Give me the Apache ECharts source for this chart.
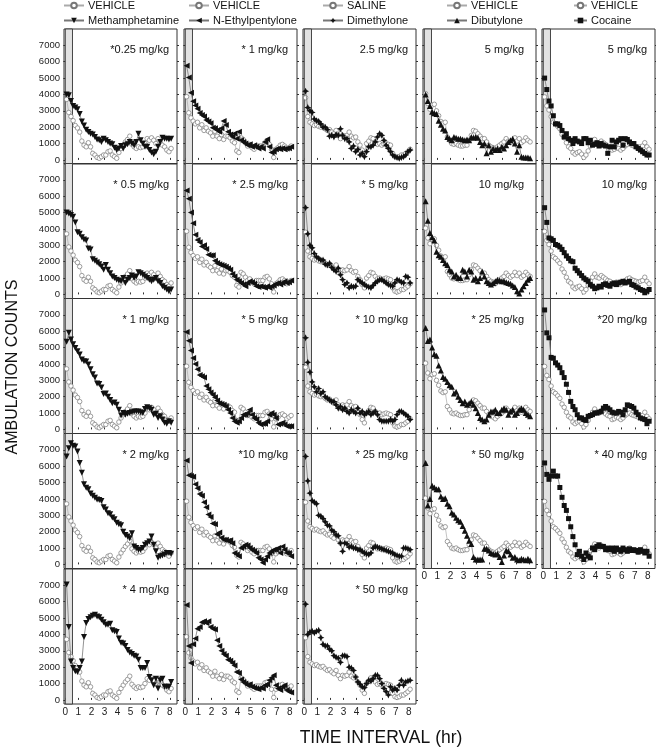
<!DOCTYPE html>
<html><head><meta charset="utf-8">
<script src="https://cdn.jsdelivr.net/npm/echarts@6/dist/echarts.min.js"></script>
<style>html,body{margin:0;padding:0;background:#fff}#c{width:656px;height:750px}</style>
</head><body><div id="c"></div>
<script>
// ---- data (10-min bins, ambulation counts) ----
const hourTicks = [0,1,2,3,4,5,6,7,8];
const countTicks = [0,1000,2000,3000,4000,5000,6000,7000];

const vehMeth = [3700,2900,2650,2400,2100,1950,1700,1150,900,800,1050,800,400,300,150,100,200,300,300,500,550,300,200,100,450,700,900,1100,1250,1450,950,800,700,800,750,800,1000,1300,1200,1350,1200,1000,1300,1100,900,800,600,500,700];
const vehNEP = [3860,2880,2570,2370,2200,2300,1960,2150,1800,1960,1750,1650,1450,1750,1450,1300,1550,1250,1450,1450,1350,1150,1050,550,450,1350,1250,1050,850,950,750,650,850,850,850,850,1050,1100,950,650,150,650,750,900,950,850,650,750,850];
const vehSaline = [3800,2650,2300,2200,2100,2150,2050,2000,2050,1900,1800,1850,1700,1600,1800,1500,1300,1500,1450,1500,1700,1450,1350,1400,1100,900,600,400,1000,1150,1350,1300,1100,950,1000,900,950,1000,950,900,400,200,150,200,300,300,400,500,650];
const vehDib = [4050,3450,3100,3350,3400,3000,2700,2350,2250,2300,1400,1200,1000,950,1000,900,850,850,900,900,1200,1500,1800,1750,1600,1450,1300,1300,1100,900,800,750,650,800,900,1000,1100,1300,1150,1050,1150,1350,1150,1300,1050,1150,1350,1200,1100];
const vehCoc = [3850,3300,3050,2650,2300,2200,2050,1900,1550,1350,1050,800,700,450,350,450,500,350,150,300,550,850,1050,1250,1050,1000,1150,1050,950,850,800,600,650,750,700,600,700,850,950,1000,900,850,800,750,800,850,1050,800,650];

const meth025 = [4000,3950,3600,3300,3200,3100,2800,2350,2100,1850,1700,1600,1550,1400,1250,1200,1100,1300,1200,1100,1000,950,750,600,700,850,700,900,950,1100,1000,900,1100,1600,1200,1000,800,800,600,450,350,500,800,1100,1350,1300,1300,1250,1300];
const meth05 = [5000,4950,4850,4750,4400,3800,3700,3500,3350,3300,2800,2750,2150,2050,1950,1850,1700,1500,1800,1500,1300,1100,1000,900,850,800,1000,700,900,1000,1150,1000,1100,1350,1300,1200,1100,1000,900,800,900,1000,800,700,500,400,300,200,300];
const meth1 = [5350,5900,5500,5200,4980,4780,4580,4270,4170,4150,3970,3670,3370,3170,2800,2780,2560,2160,2200,2000,1800,1600,1650,1500,1200,850,1000,900,950,1000,1050,1100,1100,1100,1050,1000,1250,1350,1300,1200,900,950,700,800,600,400,350,500,400];
const meth2 = [6600,7100,7400,7250,7200,6900,6200,5600,4900,4680,4600,4330,4200,4070,3970,3930,3870,3500,3360,3120,3060,2860,2760,2550,2450,2400,2000,1800,1700,1600,1900,1100,1000,900,900,1000,1200,1300,1400,1700,1200,800,400,500,550,600,700,700,650];
const meth4 = [7050,4450,2350,1950,1750,1700,1950,2350,3850,4700,4950,5050,5150,5200,5100,5050,4900,4750,4600,4600,4650,4250,4200,4150,3750,3500,3450,3300,3050,2900,2800,2700,2650,2450,1950,1950,1950,2250,1400,1200,900,1300,700,1200,1300,800,800,800,1100];

const nep1 = [5750,5030,4100,3580,3330,3130,2860,2750,2650,2440,2340,2240,1970,1930,1820,1720,1930,2380,2130,1720,1550,1410,1620,1300,1720,1200,1100,1000,900,950,800,900,800,700,800,700,1100,1260,800,450,500,650,700,650,720,650,700,720,800];
const nep25 = [6350,5850,5000,4350,3640,3330,3180,2930,3000,2780,2420,2380,2400,2050,1920,1850,1800,1750,1690,1600,1500,1250,1100,900,800,700,600,500,700,800,750,650,500,450,500,450,400,500,400,500,550,650,700,600,700,800,700,750,850];
const nep5 = [5950,5420,4820,4370,4000,3670,3330,3250,3170,2660,2460,2260,2120,1960,1760,1600,1550,1500,1400,1200,1000,700,500,400,500,700,900,900,1000,1200,900,700,600,400,300,350,350,500,900,1000,900,700,300,350,400,300,200,200,200];
const nep10 = [6350,5450,5400,5350,4900,4650,4300,4200,3800,3500,3050,2900,2500,2450,1850,1950,1630,1500,1500,1430,1480,1300,700,600,500,1000,1100,1200,1150,1000,900,800,700,400,300,100,300,500,700,800,900,900,1000,700,1100,900,700,700,500];
const nep25b = [5800,3300,2250,3400,3750,4350,4450,4750,4800,4700,4800,4450,4350,4300,3650,3300,3000,2800,2700,2450,2400,2250,2100,1700,1650,1250,1100,1000,900,950,800,750,700,650,750,700,900,950,1200,1350,1500,900,700,600,800,900,600,500,450];

const dim25 = [4200,3200,3000,2900,2500,2400,2350,2200,2000,2000,1850,1450,1500,1400,1550,1500,1900,1500,1300,1300,1100,700,850,500,650,300,400,200,500,800,800,900,1100,1400,1600,1500,1200,900,700,500,300,200,150,100,150,200,300,500,600];
const dim5 = [5300,3700,3000,2850,2500,2300,2200,2100,2100,1850,1800,1900,1650,1500,1400,1600,1200,900,600,700,400,500,450,500,900,800,700,600,500,450,400,550,700,800,900,900,800,700,600,550,500,700,900,850,750,700,1100,1050,700];
const dim10 = [5600,4100,3500,2900,2600,2300,2500,2200,2300,2000,1900,1800,1700,1700,1500,1300,1400,1200,1300,1100,1000,1200,1100,1000,1300,1000,1100,900,1000,1100,900,1000,1100,900,600,500,500,500,500,600,500,600,900,1100,1100,1000,900,800,600];
const dim25b = [6600,5100,4350,3900,3800,3700,3000,2950,2800,2600,2400,2350,2100,2000,1800,1750,1300,800,1300,1250,1050,1100,1000,1000,900,900,800,700,650,600,700,1000,1100,1050,1000,950,900,850,800,750,700,600,550,500,500,1000,1000,950,900];
const dim50 = [5850,4000,4150,4200,4100,4200,4250,3800,3400,3300,3300,3100,3000,2700,2600,2550,2300,2700,2700,2650,2000,1950,1800,1400,1100,950,800,750,1000,1200,1150,1300,1500,1500,1300,1000,700,500,300,800,600,700,600,900,1200,900,1100,1150,1200];

const dib5 = [4000,3600,3300,2950,2850,2800,2400,2150,1900,1800,1400,1300,1200,1400,1350,1300,1300,1250,1200,1250,1200,1400,1350,1400,1350,1100,900,1000,400,900,500,700,600,700,600,800,700,900,1100,1200,1300,1000,500,900,200,150,150,150,100];
const dib10 = [5700,4500,3750,3500,3300,2600,2400,2300,2100,1900,1800,1500,1400,1100,1200,1000,1000,1500,1400,1100,1500,1400,900,1000,800,1000,1400,1100,800,700,600,700,800,900,850,800,800,750,700,650,550,450,200,50,300,500,700,900,1000];
const dib25 = [6200,5400,5500,5000,4600,4500,3900,3600,3200,3100,2900,2700,2600,2200,2300,2000,1800,1600,1700,1500,1600,1700,1500,1300,1000,700,600,500,600,900,1100,1100,1200,1000,1000,1200,1300,1200,900,1100,1200,900,1000,1200,1300,1200,1000,900,800];
const dib50 = [6200,3600,4000,4800,4700,4600,4600,4150,4000,4050,3700,3550,3150,3050,2850,2700,2600,2350,2050,1750,1450,1250,450,300,300,300,300,950,950,850,700,650,600,650,450,150,550,850,800,600,400,450,300,250,350,300,250,350,250];

const coc5 = [5000,4300,3600,3300,2700,2200,2200,2100,1800,1400,1600,1300,1200,1000,1300,1150,1100,1000,1300,1300,1050,1200,900,950,1050,850,1000,900,850,400,800,1200,800,1100,1200,1300,900,1300,1250,1100,1000,1000,800,700,600,500,400,300,300];
const coc10 = [5300,4400,3450,3400,3300,3050,3000,2900,2750,2550,2350,2200,2050,2000,1600,1450,1300,1150,1000,900,800,600,500,350,400,500,450,600,650,550,500,650,700,600,700,750,800,700,750,800,600,550,450,400,300,250,100,200,300];
const coc20 = [7300,5900,5600,4400,4350,4070,3930,3770,3470,3170,2760,2260,1710,1400,1200,900,700,700,600,550,800,850,900,1000,1000,1050,1100,1300,1400,1300,1200,1050,1000,1000,1100,1050,900,1200,1500,1450,1400,1300,1050,900,700,650,600,350,500];
const coc40 = [6200,5500,5200,5400,5700,5400,5400,4700,4100,3600,3300,2800,2300,1700,1200,600,800,500,300,700,500,400,1000,900,1100,1200,1100,1100,900,1000,900,1000,800,1000,900,800,1000,900,800,950,850,900,850,750,900,800,700,800,500];

const drugNames = ['Methamphetamine','N-Ethylpentylone','Dimethylone','Dibutylone','Cocaine'];
const vehicleNames = ['VEHICLE','VEHICLE','SALINE','VEHICLE','VEHICLE'];
const vehicleData = [vehMeth, vehNEP, vehSaline, vehDib, vehCoc];
const doseData = [
  [meth025, meth05, meth1, meth2, meth4],
  [nep1, nep25, nep5, nep10, nep25b],
  [dim25, dim5, dim10, dim25b, dim50],
  [dib5, dib10, dib25, dib50],
  [coc5, coc10, coc20, coc40]
];
const doseLabels = [
  ['*0.25 mg/kg','* 0.5 mg/kg','* 1 mg/kg','* 2 mg/kg','* 4 mg/kg'],
  ['* 1 mg/kg','* 2.5 mg/kg','* 5 mg/kg','*10 mg/kg','* 25 mg/kg'],
  ['2.5 mg/kg','* 5 mg/kg','* 10 mg/kg','* 25 mg/kg','* 50 mg/kg'],
  ['5 mg/kg','10 mg/kg','* 25 mg/kg','* 50 mg/kg'],
  ['5 mg/kg','10 mg/kg','*20 mg/kg','* 40 mg/kg']
];
const binStart = 0.1, binWidth = 1/6;

// ---- layout / style ----
const FONT = 'Liberation Sans, Arial, sans-serif';
const colLeft = [64, 184, 303, 423, 542];
const rowTop = [29, 163.5, 298.5, 433.5, 569];
const PW = 113, PH = 135;
const labelInset = [8, 9, 8, 12, 8];
const legendLeft = [63, 188, 322, 446, 573];
const legendItemW = [20, 20, 20, 20, 13];

const drugSymbol = [
  {symbol:'triangle', rotate:180, size:6},
  {symbol:'triangle', rotate:90, size:6},
  {symbol:'path://M0,-5 L1.6,-1.6 L5,0 L1.6,1.6 L0,5 L-1.6,1.6 L-5,0 L-1.6,-1.6 Z', rotate:0, size:7},
  {symbol:'triangle', rotate:0, size:6},
  {symbol:'rect', rotate:0, size:5}
];

const grids = [], xAxes = [], yAxes = [], series = [], graphics = [];
function toPoints(arr){ return arr.map((v,i)=>[binStart + i*binWidth, v]); }
const plain = v => String(v);

let k = 0;
for (let c = 0; c < 5; c++) {
  const nRows = doseData[c].length;
  for (let r = 0; r < nRows; r++) {
    const left = colLeft[c], top = rowTop[r];
    grids.push({left:left, top:top, width:PW, height:PH, show:true, borderColor:'#333', borderWidth:1, backgroundColor:'rgba(0,0,0,0)'});
    const bottomPanel = (r === nRows - 1);
    xAxes.push({gridIndex:k, type:'value', min:-0.1, max:8.55,
      axisLine:{show:false}, splitLine:{show:false},
      axisTick:{show:true, inside:true, length:2, customValues:hourTicks, lineStyle:{color:'#333'}},
      axisLabel:{show:bottomPanel, customValues:hourTicks, formatter:plain, fontSize:10, margin:3, color:'#222', fontFamily:FONT}});
    yAxes.push({gridIndex:k, type:'value', min:-250, max:8000, position:'left',
      axisLine:{show:false}, splitLine:{show:false},
      axisTick:{show:true, inside:false, length:2, customValues:countTicks, lineStyle:{color:'#333'}},
      axisLabel:{show:c===0, customValues:countTicks, formatter:plain, fontSize:9.5, margin:4, color:'#222', fontFamily:FONT}});
    yAxes.push({gridIndex:k, type:'value', min:-250, max:8000, position:'right',
      axisLine:{show:false}, splitLine:{show:false},
      axisTick:{show:true, inside:false, length:2, customValues:countTicks, lineStyle:{color:'#333'}},
      axisLabel:{show:false}});
    series.push({type:'line', name:vehicleNames[c], xAxisIndex:k, yAxisIndex:2*k,
      data:toPoints(vehicleData[c]), symbol:'circle', symbolSize:4.5,
      itemStyle:{color:'#ffffff', borderColor:'#777', borderWidth:0.7}, lineStyle:{color:'#aaa', width:0.7},
      markArea:{silent:true, itemStyle:{color:'#e2e2e2', borderColor:'#333', borderWidth:0.9},
        data:[[{xAxis:0},{xAxis:0.55}]]}, z:2});
    const ds = drugSymbol[c];
    series.push({type:'line', name:drugNames[c], xAxisIndex:k, yAxisIndex:2*k,
      data:toPoints(doseData[c][r]), symbol:ds.symbol, symbolRotate:ds.rotate, symbolSize:ds.size,
      itemStyle:{color:'#111'}, lineStyle:{color:'#777', width:0.8}, z:3});
    graphics.push({type:'text', x:left + PW - labelInset[c], y:top + 21,
      style:{text:doseLabels[c][r], fill:'#111', fontSize:11, fontFamily:FONT, align:'right', verticalAlign:'middle'}});
    k++;
  }
}

graphics.push({type:'text', x:13, y:367, rotation:Math.PI/2,
  style:{text:'AMBULATION COUNTS', fill:'#111', fontSize:16, fontFamily:FONT, align:'center', verticalAlign:'middle'}});
graphics.push({type:'text', x:381, y:738,
  style:{text:'TIME INTERVAL (hr)', fill:'#111', fontSize:17.5, fontFamily:FONT, align:'center', verticalAlign:'middle'}});

const legends = drugNames.map((d,c)=>({
  data:[vehicleNames[c], d], orient:'vertical', left:legendLeft[c], top:0, padding:0,
  itemWidth:legendItemW[c], itemHeight:7, itemGap:4, selectedMode:false,
  textStyle:{fontSize:11, color:'#111', fontFamily:FONT, padding:[0,0,0,-1]}
}));

const chart = echarts.init(document.getElementById('c'), null, {renderer:'canvas'});
chart.setOption({
  animation:false,
  backgroundColor:'#fff',
  legend:legends,
  grid:grids, xAxis:xAxes, yAxis:yAxes, series:series, graphic:graphics
});
</script></body></html>
